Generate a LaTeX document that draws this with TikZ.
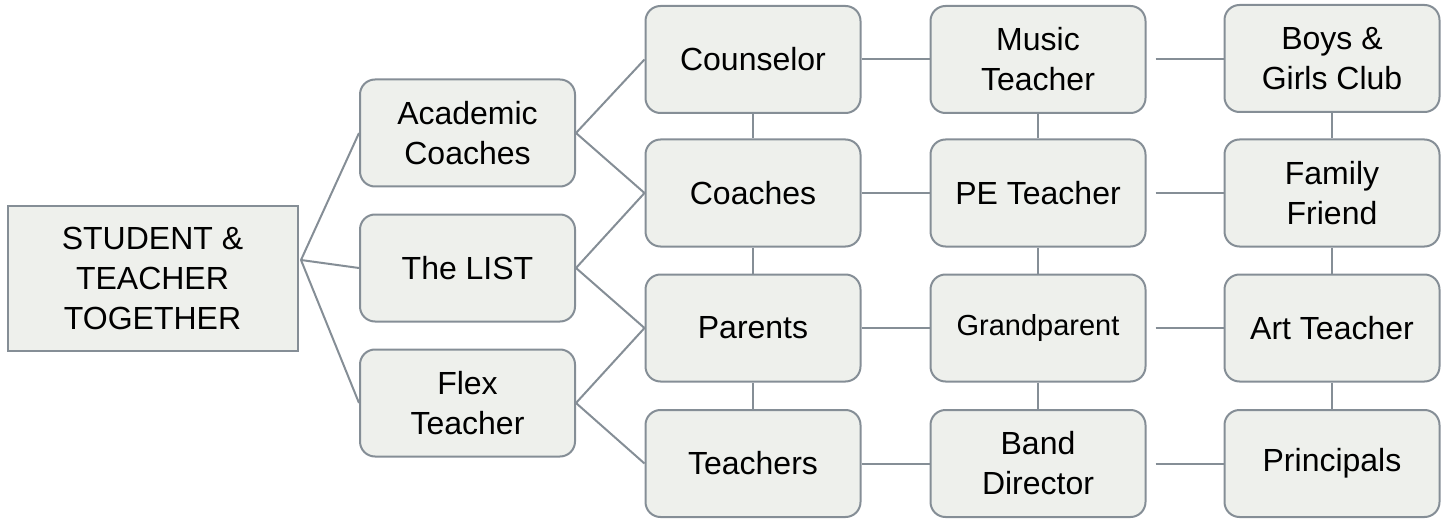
\documentclass[tikz,border=0pt]{standalone}
\usepackage{fontspec}
\setmainfont{Liberation Sans}
\usepackage{tikz}

\definecolor{boxfill}{RGB}{238,240,236}
\definecolor{boxline}{RGB}{133,142,150}

\tikzset{
  box/.style={draw=boxline, fill=boxfill, line width=1pt, rounded corners=7.5pt,
    minimum width=107.5pt, minimum height=53.5pt, inner sep=0pt, align=center,
    font=\fontsize{16}{20}\selectfont},
  link/.style={draw=boxline, line width=1pt},
}

\begin{document}
\begin{tikzpicture}[x=0.5pt, y=-0.5pt]
\useasboundingbox (0,0) rectangle (1441,519);
% The main box on the left has square corners
\node[box, rounded corners=0pt, minimum width=145pt, minimum height=72.5pt] (root) at (152.5,278) {STUDENT \&\\TEACHER\\TOGETHER};
\node[box] (academic) at (467.5,133) {Academic\\Coaches};
\node[box] (list) at (467.5,268) {The LIST};
\node[box] (flex) at (467.5,403) {Flex\\Teacher};
% second column
\node[box] (counselor) at (753,59.5) {Counselor};
\node[box] (coaches) at (753,193) {Coaches};
\node[box] (parents) at (753,328) {Parents};
\node[box] (teachers) at (753,463.5) {Teachers};
% third column
\node[box] (music) at (1038,59.5) {Music\\Teacher};
\node[box] (pe) at (1038,193) {PE Teacher};
\node[box, font=\fontsize{14.5}{18}\selectfont] (grandparent) at (1038,328) {Grandparent};
\node[box] (band) at (1038,463.5) {Band\\Director};
% fourth column
\node[box] (club) at (1332,58.5) {Boys \&\\Girls Club};
\node[box] (friend) at (1332,193) {Family\\Friend};
\node[box] (art) at (1332,328) {Art Teacher};
\node[box] (principals) at (1332,463.5) {Principals};
% The lines out of the main box all start from one point
\coordinate (hub) at (301,260);
\draw[link] (hub) -- (academic.west);
\draw[link] (hub) -- (list.west);
\draw[link] (hub) -- (flex.west);
\draw[link] (academic.east) -- (counselor.west);
\draw[link] (academic.east) -- (coaches.west);
\draw[link] (list.east) -- (coaches.west);
\draw[link] (list.east) -- (parents.west);
\draw[link] (flex.east) -- (parents.west);
\draw[link] (flex.east) -- (teachers.west);
% across the rows
\draw[link] (counselor) -- (music);
\draw[link] (coaches) -- (pe);
\draw[link] (parents) -- (grandparent);
\draw[link] (teachers) -- (band);
\draw[link, shorten <=4.5pt] (music.east) -- (music.east -| club.west);
\draw[link, shorten <=4.5pt] (pe.east) -- (pe.east -| friend.west);
\draw[link, shorten <=4.5pt] (grandparent.east) -- (grandparent.east -| art.west);
\draw[link, shorten <=4.5pt] (band.east) -- (band.east -| principals.west);
% down the columns
\draw[link] (counselor) -- (coaches);
\draw[link] (coaches) -- (parents);
\draw[link] (parents) -- (teachers);
\draw[link] (music) -- (pe);
\draw[link] (pe) -- (grandparent);
\draw[link] (grandparent) -- (band);
\draw[link] (club) -- (friend);
\draw[link] (friend) -- (art);
\draw[link] (art) -- (principals);
\end{tikzpicture}
\end{document}
